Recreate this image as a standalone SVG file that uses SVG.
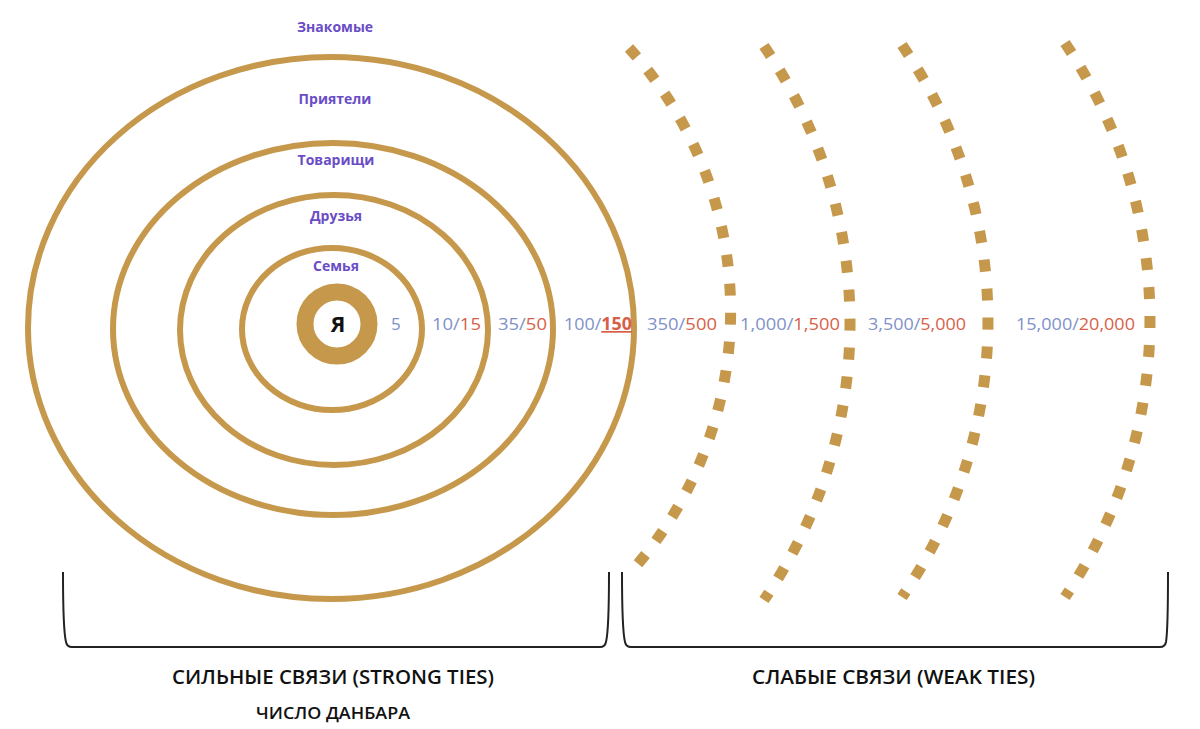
<svg xmlns="http://www.w3.org/2000/svg" width="1200" height="729" viewBox="0 0 1200 729">
  <style>
    .ring { fill: none; stroke: #c6984c; stroke-width: 6; }
    .dash { fill: none; stroke: #c6984c; stroke-width: 11; stroke-dasharray: 12 17; }
    .lbl { font-family: "Open Sans", "Liberation Sans", sans-serif; font-weight: 700; font-size: 14px; fill: #6a4dc6; text-anchor: middle; }
    .num { font-family: "Open Sans", "Liberation Sans", sans-serif; font-size: 17px; fill: #8191c8; }
    .red { fill: #d85f47; }
    .brace { fill: none; stroke: #222; stroke-width: 2; }
    .cap { font-family: "Open Sans", "Liberation Sans", sans-serif; font-weight: 600; fill: #111; }
  </style>
  <rect width="1200" height="729" fill="#ffffff"/>

  <g id="ring-znakomye">
    <ellipse class="ring" cx="331" cy="328" rx="303" ry="271"/>
    <text class="lbl" x="335" y="32">Знакомые</text>
  </g>
  <g id="ring-priyateli">
    <ellipse class="ring" cx="333" cy="329" rx="220" ry="186"/>
    <text class="lbl" x="335" y="104">Приятели</text>
  </g>
  <g id="ring-tovarishchi">
    <ellipse class="ring" cx="334" cy="330" rx="154" ry="135"/>
    <text class="lbl" x="336" y="165">Товарищи</text>
  </g>
  <g id="ring-druzya">
    <ellipse class="ring" cx="332" cy="329" rx="90" ry="81"/>
    <text class="lbl" x="336" y="221">Друзья</text>
  </g>
  <g id="ring-semya">
    <text class="lbl" x="336" y="271">Семья</text>
  </g>
  <g id="me">
    <circle cx="337" cy="324" r="32" fill="none" stroke="#c6984c" stroke-width="17"/>
    <text x="338" y="332" font-family="Open Sans, Liberation Sans, sans-serif" font-weight="700" font-size="22" fill="#111" text-anchor="middle">Я</text>
  </g>

  <g id="weak-arcs">
    <path class="dash" d="M 629 48 A 391 391 0 0 1 636 566"/>
    <path class="dash" d="M 764 46 A 489 489 0 0 1 764 600"/>
    <path class="dash" d="M 902 45 A 486 486 0 0 1 902 597"/>
    <path class="dash" d="M 1065 43 A 494 494 0 0 1 1065 597"/>
  </g>

  <g id="numbers">
    <text class="num" x="391" y="330">5</text>
    <text class="num" x="432" y="330" textLength="49" lengthAdjust="spacingAndGlyphs">10/<tspan class="red">15</tspan></text>
    <text class="num" x="498" y="330" textLength="49" lengthAdjust="spacingAndGlyphs">35/<tspan class="red">50</tspan></text>
    <text class="num" x="564" y="330" textLength="68" lengthAdjust="spacingAndGlyphs">100/<tspan class="red" font-weight="700" text-decoration="underline">150</tspan></text>
    <text class="num" x="647" y="330" textLength="70" lengthAdjust="spacingAndGlyphs">350/<tspan class="red">500</tspan></text>
    <text class="num" x="740" y="330" textLength="100" lengthAdjust="spacingAndGlyphs">1,000/<tspan class="red">1,500</tspan></text>
    <text class="num" x="868" y="330" textLength="98" lengthAdjust="spacingAndGlyphs">3,500/<tspan class="red">5,000</tspan></text>
    <text class="num" x="1016" y="330" textLength="119" lengthAdjust="spacingAndGlyphs">15,000/<tspan class="red">20,000</tspan></text>
  </g>

  <g id="connectors">
    <path class="brace" d="M 63 572 Q 63 630 66 642 Q 67 647 72 647 L 600 647 Q 605 647 606 642 Q 609 630 609 572"/>
    <path class="brace" d="M 622 572 Q 622 630 625 642 Q 626 647 631 647 L 1160 647 Q 1165 647 1166 642 Q 1168 630 1168 572"/>
  </g>

  <g id="strong-label">
    <text class="cap" x="172" y="684" font-size="20" textLength="322" lengthAdjust="spacingAndGlyphs">СИЛЬНЫЕ СВЯЗИ (STRONG TIES)</text>
    <text class="cap" x="256" y="719" font-size="17" textLength="154" lengthAdjust="spacingAndGlyphs">ЧИСЛО ДАНБАРА</text>
  </g>
  <g id="weak-label">
    <text class="cap" x="752" y="684" font-size="20" textLength="283" lengthAdjust="spacingAndGlyphs">СЛАБЫЕ СВЯЗИ (WEAK TIES)</text>
  </g>
</svg>
